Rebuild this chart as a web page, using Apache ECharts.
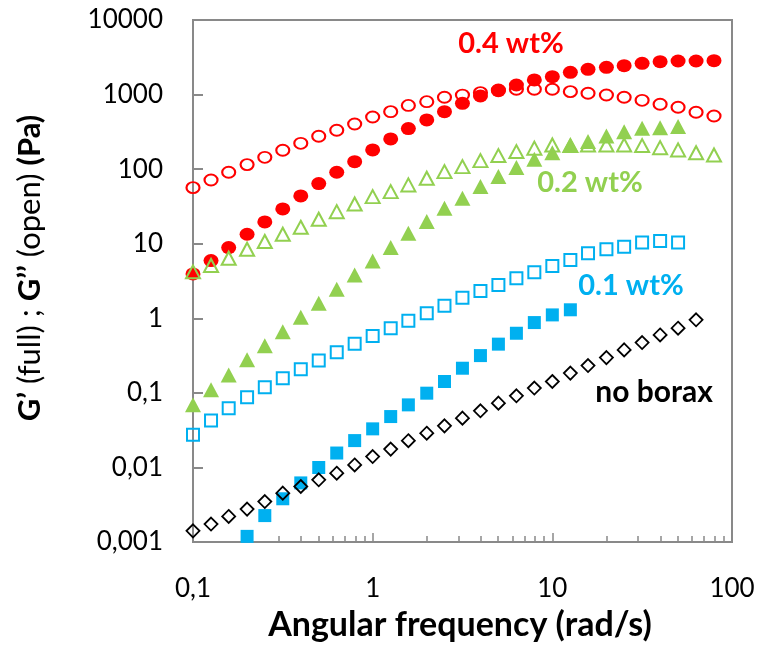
<!DOCTYPE html>
<html><head><meta charset="utf-8">
<script src="https://cdn.jsdelivr.net/npm/echarts@6/dist/echarts.min.js"></script>
<style>html,body{margin:0;padding:0;background:#fff}#c{width:759px;height:652px}</style>
</head><body><div id="c"></div>
<script>
// Angular frequency (rad/s), 10 points per decade
const freq = [0.1, 0.126, 0.158, 0.2, 0.251, 0.316, 0.398, 0.501, 0.631, 0.794,
              1, 1.26, 1.58, 2, 2.51, 3.16, 3.98, 5.01, 6.31, 7.94,
              10, 12.6, 15.8, 20, 25.1, 31.6, 39.8, 50.1, 63.1, 79.4];

// G' (filled) and G'' (open), Pa
const gp04  = [3.94, 5.94, 8.87, 13.4, 19.6, 29.3, 43.7, 64, 90.8, 126, 181, 254, 350, 457, 590, 764, 960, 1127, 1345, 1571, 1738, 1990, 2183, 2322, 2443, 2625, 2760, 2818, 2818, 2852];
const gpp04 = [56.5, 71.6, 90.8, 115, 144, 179, 222, 276, 332, 403, 500, 590, 715, 803, 920, 985, 1061, 1153, 1178, 1178, 1178, 1095, 1041, 988, 920, 838, 741, 676, 580, 516];
const gp02  = [0.069, 0.11, 0.174, 0.277, 0.427, 0.66, 1.03, 1.59, 2.45, 3.82, 5.88, 8.9, 13.8, 19.8, 29.9, 40.7, 58.3, 79.4, 105, 136, 166, 211, 234, 279, 318, 353, 360, 372];
const gpp02 = [4.2, 5.1, 6.38, 8.43, 10.7, 13.4, 16.6, 21.3, 26.9, 34.1, 42.8, 49.9, 61.4, 75.5, 92.7, 108, 130, 152, 172, 191, 211, 207, 211, 211, 211, 207, 194, 181, 166, 155];
const gp01  = [0.00119, 0.00226, 0.0038, 0.0062, 0.00998, 0.0156, 0.0229, 0.0329, 0.0481, 0.069, 0.099, 0.142, 0.214, 0.316, 0.45, 0.63, 0.876, 1.11, 1.30];
const gp01Start = 3;
const gpp01 = [0.0274, 0.0426, 0.0624, 0.0875, 0.119, 0.157, 0.208, 0.271, 0.351, 0.454, 0.58, 0.736, 0.93, 1.17, 1.47, 1.89, 2.33, 2.8, 3.45, 4.15, 5.04, 6.06, 7.46, 8.44, 9.14, 10.4, 10.9, 10.4];
const gppNB = [0.00141, 0.00174, 0.0022, 0.00276, 0.00349, 0.00452, 0.00555, 0.00682, 0.00838, 0.0108, 0.014, 0.0176, 0.0228, 0.0288, 0.0361, 0.0458, 0.0574, 0.0728, 0.0912, 0.116, 0.142, 0.184, 0.232, 0.297, 0.377, 0.472, 0.598, 0.736, 0.953];

const xTickValues = [0.1, 1, 10, 100];
const xTickLabels = ['0,1', '1', '10', '100'];
const yTickValues = [0.001, 0.01, 0.1, 1, 10, 100, 1000, 10000];
const yTickLabels = ['0,001', '0,01', '0,1', '1', '10', '100', '1000', '10000'];
const xMinorTicks = [0.2,0.3,0.4,0.5,0.6,0.7,0.8,0.9, 2,3,4,5,6,7,8,9, 20,30,40,50,60,70,80,90];

const RED = '#FF0000', GREEN = '#92D050', BLUE = '#00B0F0', BLACK = '#000000';
const AXIS = '#898989';
const FONT = 'Lato';

function pairs(vals, start) { return vals.map((v, i) => [freq[start + i], v]); }
function lookup(values, labels) {
  return function (v) {
    for (let i = 0; i < values.length; i++) {
      if (Math.abs(Math.log10(v) - Math.log10(values[i])) < 1e-6) return labels[i];
    }
    return '';
  };
}
function filled(name, data, symbol, size, color) {
  return { name, type: 'scatter', xAxisIndex: 0, yAxisIndex: 0, data, symbol, symbolSize: size, clip: false,
           itemStyle: { color: color, opacity: 1 }, emphasis: { disabled: true } };
}
function open(name, data, symbol, size, color, bw) {
  return { name, type: 'scatter', xAxisIndex: 0, yAxisIndex: 0, data, symbol, symbolSize: size, clip: false,
           itemStyle: { color: 'rgba(255,255,255,0)', borderColor: color, borderWidth: bw, opacity: 1 },
           emphasis: { disabled: true } };
}
function label(text, x, y, color, size) {
  return { type: 'text', x, y, style: { text, font: 'bold ' + size + 'px ' + FONT, fill: color,
           textAlign: 'center', textVerticalAlign: 'middle', align: 'center', verticalAlign: 'middle' } };
}

const chart = echarts.init(document.getElementById('c'), null, { renderer: 'canvas' });
chart.setOption({
  animation: false,
  backgroundColor: '#ffffff',
  grid: { left: 193, top: 20, right: 27, bottom: 110, show: true, borderColor: AXIS, borderWidth: 2, backgroundColor: 'transparent' },
  xAxis: [{
    type: 'log', logBase: 10, min: 0.1, max: 100, splitNumber: 3, position: 'bottom',
    axisLine: { show: true, lineStyle: { color: AXIS, width: 2 } },
    axisTick: { show: true, inside: true, length: 9, lineStyle: { color: AXIS, width: 1.5 } },
    splitLine: { show: false },
    axisLabel: { formatter: lookup(xTickValues, xTickLabels), fontFamily: FONT, fontSize: 26, color: '#000', margin: 34 }
  }, {
    type: 'log', logBase: 10, min: 0.1, max: 100, position: 'bottom', gridIndex: 0,
    axisLine: { show: false },
    axisTick: { show: true, inside: true, length: 6, customValues: xMinorTicks, lineStyle: { color: AXIS, width: 1.5 } },
    axisLabel: { show: false },
    splitLine: { show: false }
  }],
  yAxis: [{
    type: 'log', logBase: 10, min: 0.001, max: 10000, splitNumber: 7,
    axisLine: { show: true, lineStyle: { color: AXIS, width: 2 } },
    axisTick: { show: true, inside: true, length: 10, lineStyle: { color: AXIS, width: 2 } },
    splitLine: { show: false },
    axisLabel: { formatter: lookup(yTickValues, yTickLabels), fontFamily: FONT, fontSize: 26, color: '#000', margin: 30 }
  }],
  series: [
    filled("G' 0.4 wt%", pairs(gp04, 0), 'circle', [15, 13], RED),
    filled("G' 0.2 wt%", pairs(gp02, 0), 'triangle', [16, 15], GREEN),
    filled("G' 0.1 wt%", pairs(gp01, gp01Start), 'rect', [13, 13], BLUE),
    open("G'' 0.4 wt%", pairs(gpp04, 0), 'circle', [13, 11], RED, 2),
    open("G'' 0.2 wt%", pairs(gpp02, 0), 'triangle', [14, 13], GREEN, 2),
    open("G'' 0.1 wt%", pairs(gpp01, 0), 'rect', [12, 12], BLUE, 2),
    open("G'' no borax", pairs(gppNB, 0), 'diamond', [13, 13], BLACK, 1.8)
  ],
  graphic: [
    label('0.4 wt%', 511, 44, RED, 29),
    label('0.2 wt%', 590, 183, GREEN, 29),
    label('0.1 wt%', 631, 286, BLUE, 29),
    label('no borax', 654, 392, BLACK, 30),
    label('Angular frequency (rad/s)', 460, 625, '#000', 34),
    { type: 'text', x: 30, y: 268, rotation: Math.PI / 2,
      style: { text: '{b|G’} (full) ; {b|G’’} (open) {b|(Pa)}', font: '31px Lato', fontFamily: FONT, fontSize: 31, fill: '#000',
               rich: { b: { fontWeight: 'bold', fontFamily: FONT, fontSize: 31, fill: '#000', color: '#000' } },
               textAlign: 'center', textVerticalAlign: 'middle', align: 'center', verticalAlign: 'middle' } }
  ]
});
</script></body></html>
